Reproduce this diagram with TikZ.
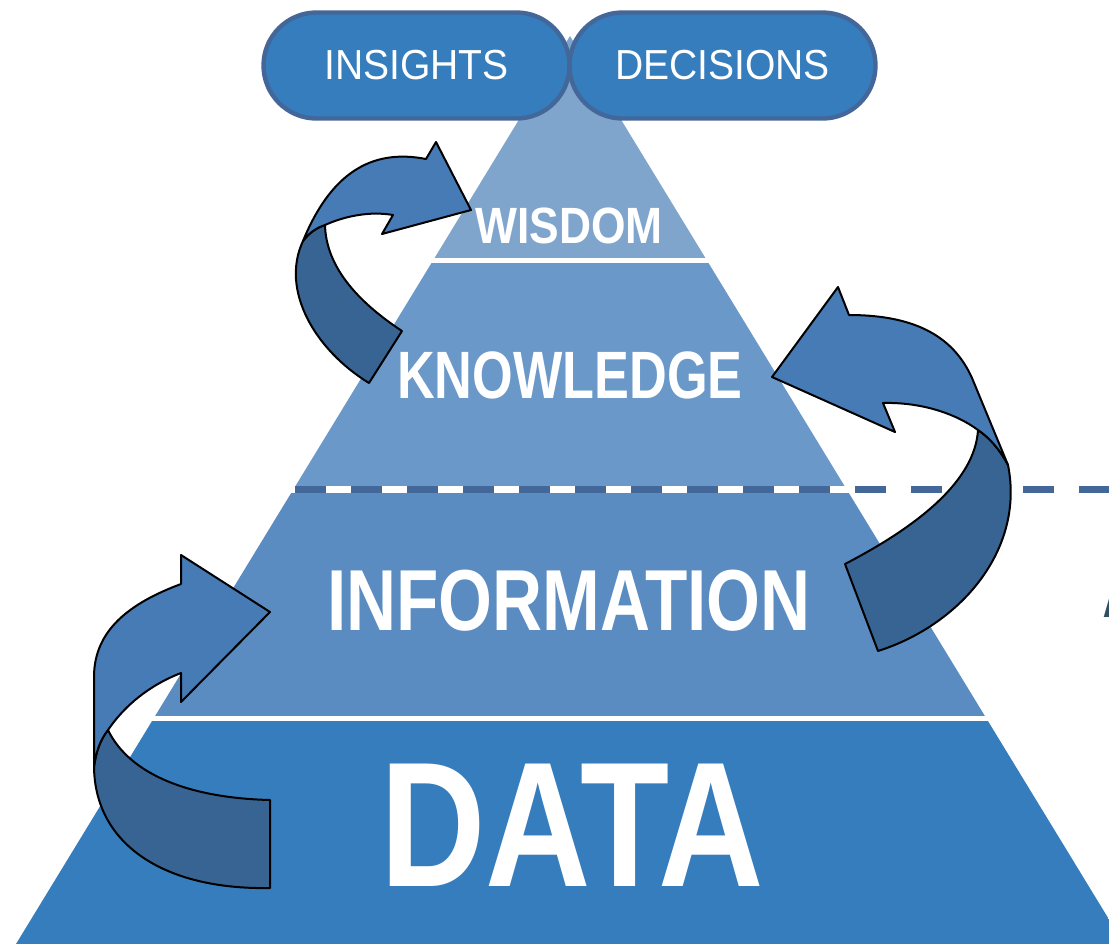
\documentclass[tikz,border=0pt]{standalone}
\usepackage{fontspec}
\setmainfont{Liberation Sans}
\newfontfamily\pillfont{Liberation Sans}[FakeStretch=0.93]
\usepackage{tikz}
\usetikzlibrary{positioning}

\definecolor{wisdomblue}{HTML}{7FA5CD}
\definecolor{knowblue}{HTML}{6A98C8}
\definecolor{infoblue}{HTML}{5A8BC1}
\definecolor{datablue}{HTML}{357DBD}
\definecolor{edgeblue}{HTML}{44679A}
\definecolor{arrowlight}{HTML}{467BB6}
\definecolor{arrowdark}{HTML}{386494}
\definecolor{slate}{HTML}{2F4F62}

\tikzset{
  level/.style={text=white, inner sep=0pt, anchor=base},
  pill/.style={draw=edgeblue, fill=datablue, line width=2.2pt, rounded corners=26.5pt,
    minimum width=153pt, minimum height=53pt, text=white,
    font=\pillfont\fontsize{21}{21}\selectfont},
  headpart/.style={fill=arrowlight, draw=black, line width=1pt, line join=round},
  tailpart/.style={fill=arrowdark, draw=black, line width=1pt, line join=round},
}

\begin{document}
\begin{tikzpicture}[x=0.5pt, y=-0.5pt]
    \useasboundingbox (0,0) rectangle (1109,944);

    % pyramid bands
    \begin{scope}
        \clip (570,36) -- (16,944) -- (1124,944) -- cycle;
        \fill[wisdomblue] (0,0) rectangle (1109,258);
        \fill[knowblue] (0,263) rectangle (1109,486);
        \fill[infoblue] (0,493) rectangle (1109,716);
        \fill[datablue] (0,721) rectangle (1109,944);
    \end{scope}

    \coordinate (cut west) at (295,489.5);
    \coordinate (cut east) at (1109,489.5);
    \draw[edgeblue, line width=3.5pt, dash pattern=on 15.5pt off 12.5pt] (cut west) -- (cut east);

    \node[level, font=\bfseries\fontsize{25.5}{25.5}\selectfont] (wisdom) at (569,243) {\scalebox{0.87}[1]{WISDOM}};
    \node[level, font=\bfseries\fontsize{33.5}{33.5}\selectfont] (knowledge) at (570,398) {\scalebox{0.78}[1]{KNOWLEDGE}};
    \node[level, font=\bfseries\fontsize{43.3}{43.3}\selectfont] (information) at (569,630) {\scalebox{0.80}[1]{INFORMATION}};
    \node[level, font=\bfseries\fontsize{89}{89}\selectfont] (data) at (572,886) {\scalebox{0.82}[1]{DATA}};

    % wisdom loop
    \filldraw[tailpart] (325,225) .. controls (326,265) and (355,300) .. (402,331) -- (369,383)
        .. controls (315,350) and (280,290) .. (303,241)
        .. controls (309,233) and (316,228) .. (325,225) -- cycle;
    \filldraw[headpart] (393,215) -- (382,234) -- (471,210) -- (436,142) -- (426,159)
        .. controls (370,148) and (330,175) .. (303,241)
        .. controls (309,233) and (316,228) .. (325,225)
        .. controls (345,216) and (370,211) .. (393,215) -- cycle;

    % knowledge loop
    \filldraw[tailpart] (978,430) .. controls (975,480) and (920,525) .. (845,564) -- (878,651)
        .. controls (960,625) and (1025,550) .. (1008,465)
        .. controls (1000,450) and (990,438) .. (978,430) -- cycle;
    \filldraw[headpart] (883,403) -- (895,432) -- (772,377) -- (838,287) -- (849,315)
        .. controls (920,315) and (955,340) .. (972,378) -- (1008,465)
        .. controls (1000,450) and (990,438) .. (978,430)
        .. controls (955,413) and (920,402) .. (883,403) -- cycle;

    % information loop
    \filldraw[tailpart] (108,730) .. controls (130,775) and (190,798) .. (270,800) -- (270,888)
        .. controls (165,890) and (95,845) .. (94,767)
        .. controls (96,752) and (100,740) .. (108,730) -- cycle;
    \filldraw[headpart] (181,673) -- (181,702) -- (270,612) -- (181,555) -- (181,584)
        .. controls (130,603) and (94,630) .. (94,677) -- (94,767)
        .. controls (96,752) and (100,740) .. (108,730)
        .. controls (125,705) and (150,685) .. (181,673) -- cycle;

    \node[pill] (insights) at (416.5,65.5) {INSIGHTS};
    \node[pill] (decisions) at (722.5,65.5) {DECISIONS};

    \begin{scope}
        \clip (0,0) rectangle (1109,944);
        \node[level, anchor=base west, text=slate, font=\bfseries\fontsize{43.3}{43.3}\selectfont] (cutoff) at (1102,617) {\scalebox{0.79}[1]{A}};
    \end{scope}
\end{tikzpicture}
\end{document}
